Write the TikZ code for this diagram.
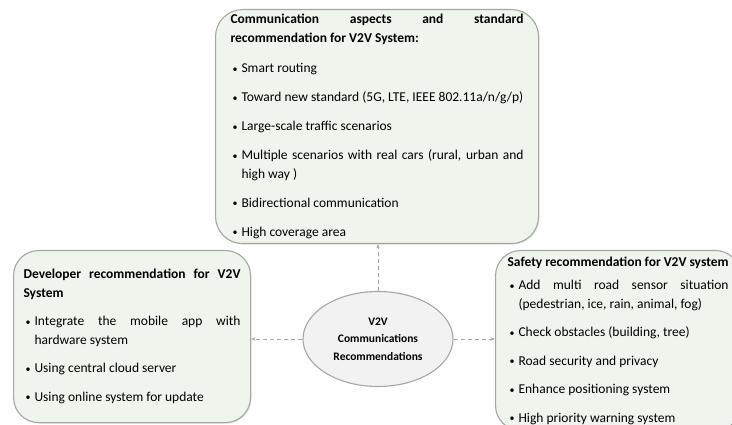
\documentclass[tikz,border=0pt]{standalone}
\usepackage{fontspec}
\setmainfont{Carlito}
\usetikzlibrary{arrows.meta,shapes.geometric,shadows}
\definecolor{boxfill}{HTML}{EFF5EC}
\definecolor{boxline}{HTML}{A6A6A6}
\definecolor{ovalfill}{HTML}{F2F2F2}
\hyphenpenalty=10000
\exhyphenpenalty=10000
% one bullet point, #1 is the gap above it
\newcommand{\recitem}[2][10pt]{\par\vspace{#1}\noindent\hangindent=11pt\hangafter=1%
  \makebox[11pt][l]{\hspace{2pt}\raisebox{0.5pt}{\fontsize{10}{10}\selectfont\textbullet}}#2}

\begin{document}
\begin{tikzpicture}[x=1pt,y=-1pt,
    recbox/.style={draw=boxline,line width=1.1pt,fill=boxfill,rounded corners=27pt,anchor=north west,
      align=justify,inner ysep=4pt,drop shadow={opacity=0.2,shadow xshift=1pt,shadow yshift=-1.2pt},
      font=\fontsize{13.5}{18.5}\selectfont},
    link/.style={draw=boxline,line width=0.9pt,dash pattern=on 4pt off 3pt,-{Stealth[length=4.5pt,width=3.5pt]}}]
  \clip (0,0) rectangle (732,425);
  \fill[white] (0,0) rectangle (732,425);
  \node[recbox,minimum width=323pt,minimum height=234pt,text width=293pt,inner xsep=15pt] (comm) at (215,9)
    {\noindent\textbf{Communication aspects and standard recommendation for V2V System:}
     \recitem[12pt]{Smart routing}
     \recitem[10.5pt]{Toward new standard (5G, LTE, IEEE 802.11a/n/g/p)}
     \recitem[10.5pt]{Large-scale traffic scenarios}
     \recitem[10.5pt]{Multiple scenarios with real cars (rural, urban and high way )}
     \recitem[10.5pt]{Bidirectional communication}
     \recitem[10.5pt]{High coverage area}};
  \node[recbox,rounded corners=25pt,minimum width=237pt,minimum height=172pt,text width=217pt,inner xsep=10pt] (dev) at (13,250)
    {\noindent\textbf{Developer recommendation for V2V System}
     \recitem{Integrate the mobile app with hardware system}
     \recitem{Using central cloud server}
     \recitem{Using online system for update}};
  \node[recbox,rounded corners=25pt,minimum width=245pt,minimum height=180pt,text width=221pt,inner xsep=12pt] (safety) at (495,250)
    {\noindent\textbf{Safety recommendation for V2V system}
     \recitem[5pt]{Add multi road sensor situation (pedestrian, ice, rain, animal, fog)}
     \recitem{Check obstacles (building, tree)}
     \recitem{Road security and privacy}
     \recitem{Enhance positioning system}
     \recitem{High priority warning system}};
  \node[ellipse,draw=boxline,line width=1.1pt,fill=ovalfill,minimum width=150pt,minimum height=95pt,inner sep=0pt,
    align=center,font=\bfseries\fontsize{11.5}{17.5}\selectfont] (hub) at (378,339)
    {V2V\\Communications\\Recommendations};
  \draw[link] (hub.north) -- (hub.north |- comm.south);
  \draw[link] (hub.west) -- (hub.west -| dev.east);
  \draw[link] (hub.east) -- (hub.east -| safety.west);
\end{tikzpicture}
\end{document}
